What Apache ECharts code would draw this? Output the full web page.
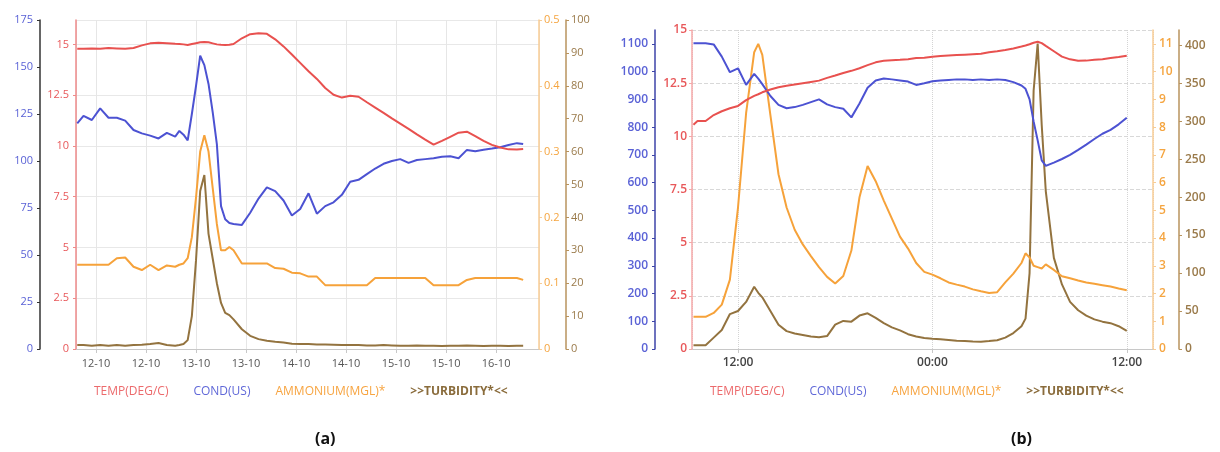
<!DOCTYPE html>
<html>
<head>
<meta charset="utf-8">
<script src="https://cdn.jsdelivr.net/npm/echarts@6/dist/echarts.min.js"></script>
<style>html,body{margin:0;padding:0;background:#fff}#c{width:1220px;height:452px}</style>
</head>
<body>
<div id="c"></div>
<script>
// ---------- names ----------
const seriesNames = ['TEMP(DEG/C)', 'COND(US)', 'AMMONIUM(MGL)*', '>>TURBIDITY*<<'];

// ---------- panel (a): hours from 12-10 00:00 ----------
const hoursA = [-4.5,-3,-1,1,3,5,7,9,11,13,15,17,
  19,20,21,22,23,24,25,26,27,28,29,30,31,32,33,
  35,37,39,41,43,45,47,49,51,53,55,57,59,61,63,65,67,69,71,73,75,77,79,81,83,85,87,89,91,93,95,97,99,101,102.5];
const tempA = [14.79,14.78,14.8,14.78,14.82,14.8,14.78,14.82,14.95,15.05,15.08,15.06,
  15.03,15.02,15.0,14.97,15.02,15.06,15.1,15.12,15.1,15.05,15.0,14.98,14.97,14.98,15.02,
  15.3,15.5,15.55,15.52,15.25,14.9,14.5,14.09,13.68,13.3,12.85,12.52,12.38,12.47,12.42,12.15,11.89,11.63,11.36,11.1,10.84,10.57,10.31,10.06,10.25,10.45,10.65,10.7,10.48,10.25,10.05,9.92,9.83,9.82,9.85];
const condA = [120,124,121.8,128,123,123,121.5,116.5,114.7,113.5,112,115,
  113,116,114,111,125,140,156,151,141,126,109,76,69,67,66.5,
  66,72.5,80,86,84,79,71,74.5,82.8,72,76,78,82,89,90,93,96,98.5,100,101,99,100.5,101,101.5,102.3,102.5,101.5,105.9,105.2,106,106.6,107.3,108.5,109.5,109];
const ammA = [0.128,0.128,0.128,0.128,0.128,0.138,0.139,0.125,0.12,0.128,0.12,0.127,
  0.125,0.128,0.13,0.138,0.17,0.23,0.30,0.325,0.30,0.245,0.19,0.15,0.15,0.155,0.15,
  0.13,0.13,0.13,0.13,0.123,0.122,0.116,0.115,0.11,0.11,0.097,0.097,0.097,0.097,0.097,0.097,0.108,0.108,0.108,0.108,0.108,0.108,0.108,0.097,0.097,0.097,0.097,0.105,0.108,0.108,0.108,0.108,0.108,0.108,0.105];
const turbA = [1.2,1.2,1.0,1.2,1.0,1.2,1.0,1.2,1.3,1.5,1.8,1.2,
  1.0,1.2,1.5,2.7,10,27,48,52.9,35,27.5,20,14,11,10.3,9,
  6,4,3,2.5,2.2,2.0,1.6,1.5,1.5,1.4,1.4,1.3,1.2,1.2,1.2,1.1,1.1,1.2,1.1,1.0,1.0,1.1,1.0,1.0,0.9,1.0,1.0,1.1,1.0,0.9,1.0,1.0,0.9,1.0,1.0];

// ---------- panel (b): hours from 12:00 of day 1 ----------
const hoursB = [-2.75,-2.5,-2,-1.5,-1,-0.5,0,0.5,1,1.25,1.5,2,2.5,3,3.5,4,4.5,5,5.5,6,6.5,7,7.5,8,8.5,9,9.5,10,10.5,11,11.5,12,12.5,13,13.5,14,14.5,15,15.5,16,16.5,17,17.5,17.75,18,18.25,18.5,18.75,19,19.5,20,20.5,21,21.5,22,22.5,23,23.5,24];
const tempB = [10.55,10.72,10.72,11.0,11.18,11.32,11.43,11.7,11.9,11.98,12.07,
  12.2,12.31,12.38,12.44,12.5,12.56,12.62,12.75,12.86,12.98,
  13.08,13.2,13.35,13.48,13.55,13.58,13.6,13.63,13.68,13.7,
  13.74,13.78,13.8,13.82,13.84,13.86,13.88,13.95,14.0,14.06,
  14.13,14.22,14.27,14.33,14.4,14.45,14.38,14.25,
  14.0,13.75,13.62,13.55,13.56,13.6,13.63,13.68,13.73,13.79];
const condB = [1102,1102,1102,1098,1054,998,1012,952,992,975,955,
  912,880,868,872,880,890,900,882,872,866,
  835,885,942,968,975,972,968,964,952,958,
  965,968,970,972,972,970,972,970,972,970,
  962,950,938,900,820,752,680,660,
  672,685,700,718,737,757,776,790,810,834];
const ammB = [1.16,1.16,1.16,1.3,1.6,2.5,5.1,8.5,10.7,11.0,10.6,
  8.43,6.3,5.1,4.3,3.77,3.35,2.95,2.6,2.36,2.63,
  3.55,5.47,6.6,6.05,5.35,4.7,4.05,3.62,3.1,2.78,
  2.68,2.55,2.4,2.32,2.25,2.15,2.08,2.02,2.05,2.4,
  2.72,3.1,3.45,3.3,3.0,2.95,2.9,3.05,
  2.85,2.62,2.55,2.47,2.4,2.35,2.3,2.25,2.18,2.12];
const turbB = [5,5,5,15,25,46,50,62,82,74,68,
  50,32,23.5,20.5,18.5,16.5,15.5,17,32,37,
  36,44,47,41,34,28.5,24.5,19.5,16.5,14.5,
  13.5,12.8,12,11,10.5,10,9.7,10.5,11.5,15,
  21,30,40,100,340,402,295,208,
  120,85,62,51,44,39,36,34,30,24];

// ---------- colours ----------
const C_RED = '#e8514f', C_BLUE = '#4c52d2', C_ORANGE = '#f6a23a', C_BROWN = '#93733f';

const H = 3600 * 1000;
const baseA = new Date(2020, 9, 12, 0, 0).getTime();
const baseB = new Date(2020, 9, 20, 12, 0).getTime();
const pair = (base, hrs, vals) => hrs.map((h, i) => [base + h * H, vals[i]]);
const pad = n => (n < 10 ? '0' : '') + n;

function yAx(grid, pos, offset, min, max, interval, lineColor, labelColor, margin, font, split) {
  return {
    type: 'value', gridIndex: grid, position: pos, offset: offset,
    min: min, max: max, interval: interval,
    axisLine: { show: true, lineStyle: { color: lineColor, width: 1.5 } },
    axisTick: { show: true, length: 3, lineStyle: { color: lineColor } },
    axisLabel: { color: labelColor, margin: margin, fontSize: font.size, fontWeight: font.weight,
      fontFamily: 'Open Sans', showMaxLabel: (Math.abs(max / interval - Math.round(max / interval)) < 1e-9),
      formatter: v => String(+v.toFixed(4)) },
    splitLine: split ? { show: true, lineStyle: split } : { show: false }
  };
}
const fA = { size: 11, weight: 'normal' }, fB = { size: 12, weight: 600 };

const option = {
  animation: false,
  backgroundColor: '#fff',
  title: [
    { text: '(a)', left: 310, top: 426, textStyle: { fontSize: 16, fontWeight: 'bold', color: '#111', fontFamily: 'Open Sans' } },
    { text: '(b)', left: 1006, top: 426, textStyle: { fontSize: 16, fontWeight: 'bold', color: '#111', fontFamily: 'Open Sans' } }
  ],
  legend: [0, 1].map(k => ({
    left: k === 0 ? 84 : 700, top: 381, icon: 'none', itemWidth: 0, itemHeight: 0, itemGap: 20,
    textStyle: { fontSize: 12, fontFamily: 'Open Sans' },
    data: [
      { name: seriesNames[0], textStyle: { color: '#ec6a6c' } },
      { name: seriesNames[1], textStyle: { color: '#6068d8' } },
      { name: seriesNames[2], textStyle: { color: '#f7a440' } },
      { name: seriesNames[3], textStyle: { color: '#8a6c3c', fontWeight: 'bold' } }
    ]
  })),
  grid: [
    { left: 76, right: 1220 - 539, top: 20, bottom: 452 - 349, containLabel: false },
    { left: 692, right: 1220 - 1153, top: 30, bottom: 452 - 349, containLabel: false }
  ],
  xAxis: [
    { type: 'time', gridIndex: 0, min: baseA - 4.8 * H, max: baseA + 106.3 * H,
      minInterval: 13 * H, maxInterval: 13 * H,
      axisLine: { lineStyle: { color: '#c8c8c8' } },
      axisTick: { show: true, length: 4, lineStyle: { color: '#c8c8c8' } },
      axisLabel: { color: '#555', fontSize: 11, fontFamily: 'Open Sans', margin: 9, hideOverlap: false,
        formatter: v => { const d = new Date(v); return pad(d.getDate()) + '-' + pad(d.getMonth() + 1); } },
      splitLine: { show: true, lineStyle: { color: '#e6e6e6' } } },
    { type: 'time', gridIndex: 1, min: baseB - 2.84 * H, max: baseB + 25.62 * H,
      minInterval: 13 * H, maxInterval: 13 * H,
      axisLine: { lineStyle: { color: '#c8c8c8' } },
      axisTick: { show: true, length: 4, lineStyle: { color: '#c8c8c8' } },
      axisLabel: { color: '#444', fontSize: 12, fontWeight: 600, fontFamily: 'Open Sans', margin: 8, hideOverlap: false,
        formatter: v => { const d = new Date(v); return pad(d.getHours()) + ':' + pad(d.getMinutes()); } },
      splitLine: { show: true, lineStyle: { color: '#d4d4d4', type: 'dotted' } } }
  ],
  yAxis: [
    yAx(0, 'left', 0, 0, 16.2, 2.5, '#ee8a8a', '#e8585a', 7, fA, { color: '#e8e8e8' }),
    yAx(0, 'left', 36, 0, 175, 25, '#333', '#5a62d6', 7, fA, null),
    yAx(0, 'right', 0, 0, 0.5, 0.1, '#f8cc95', '#f5a540', 5, fA, null),
    yAx(0, 'right', 27, 0, 100, 10, '#b8935e', '#9a7a4a', 5, fA, null),
    yAx(1, 'left', 0, 0, 15, 2.5, '#f6a8a8', '#e8585a', 5, fB, { color: '#d8d8d8', type: 'dashed' }),
    yAx(1, 'left', 37, 0, 1150, 100, '#3c43a8', '#5a62d6', 7, fB, null),
    yAx(1, 'right', 0, 0, 11.5, 1, '#f8cc95', '#f5a540', 6, fB, null),
    yAx(1, 'right', 26, 0, 420, 50, '#b8935e', '#9a7a4a', 6, fB, null)
  ],
  series: [
    { name: seriesNames[3], type: 'line', xAxisIndex: 0, yAxisIndex: 3, data: pair(baseA, hoursA, turbA) },
    { name: seriesNames[2], type: 'line', xAxisIndex: 0, yAxisIndex: 2, data: pair(baseA, hoursA, ammA) },
    { name: seriesNames[1], type: 'line', xAxisIndex: 0, yAxisIndex: 1, data: pair(baseA, hoursA, condA) },
    { name: seriesNames[0], type: 'line', xAxisIndex: 0, yAxisIndex: 0, data: pair(baseA, hoursA, tempA) },
    { name: seriesNames[3], type: 'line', xAxisIndex: 1, yAxisIndex: 7, data: pair(baseB, hoursB, turbB) },
    { name: seriesNames[2], type: 'line', xAxisIndex: 1, yAxisIndex: 6, data: pair(baseB, hoursB, ammB) },
    { name: seriesNames[1], type: 'line', xAxisIndex: 1, yAxisIndex: 5, data: pair(baseB, hoursB, condB) },
    { name: seriesNames[0], type: 'line', xAxisIndex: 1, yAxisIndex: 4, data: pair(baseB, hoursB, tempB) }
  ].map(s => Object.assign(s, {
    showSymbol: false, symbol: 'none',
    lineStyle: { width: 2 },
    color: { [seriesNames[0]]: C_RED, [seriesNames[1]]: C_BLUE, [seriesNames[2]]: C_ORANGE, [seriesNames[3]]: C_BROWN }[s.name]
  }))
};

const chart = echarts.init(document.getElementById('c'), null, { renderer: 'canvas' });
chart.setOption(option);
</script>
</body>
</html>
